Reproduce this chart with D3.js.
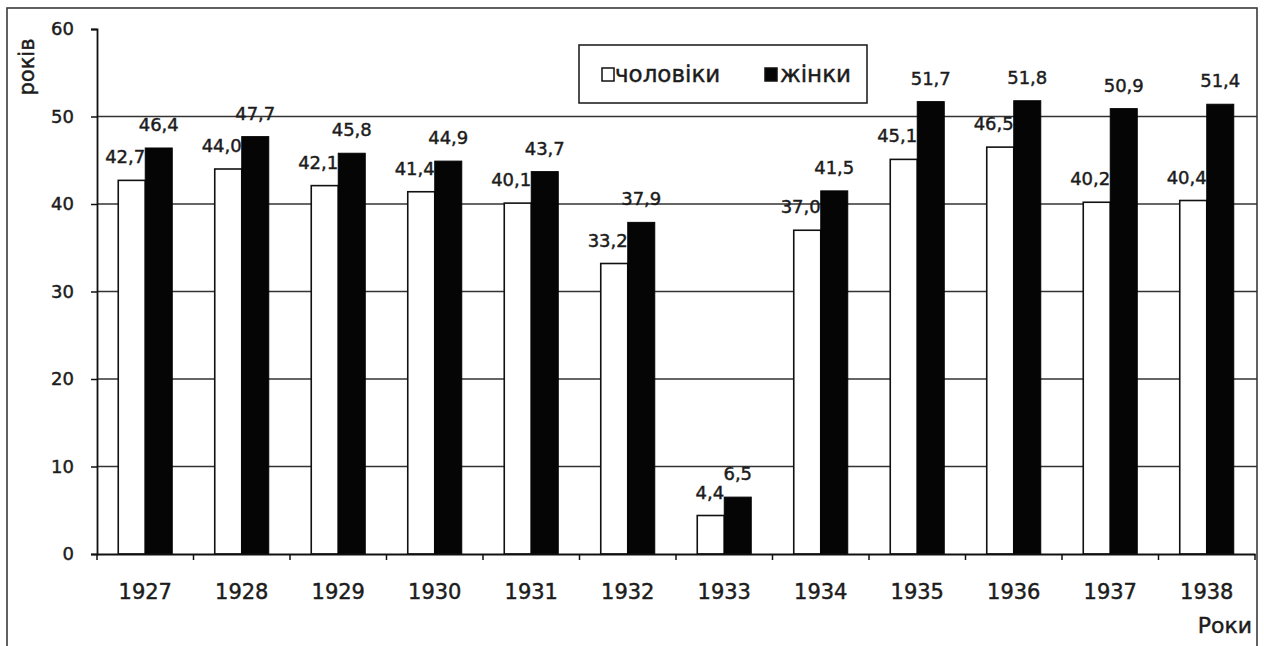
<!DOCTYPE html>
<html>
<head>
<meta charset="utf-8">
<script src="https://cdn.jsdelivr.net/npm/d3@7"></script>
<style>
  html, body { margin: 0; padding: 0; background: #fff; }
  svg { display: block; }
  text { font-family: "DejaVu Sans", sans-serif; fill: #1c1c1c; stroke: #1c1c1c; stroke-width: 0.45px; }
</style>
</head>
<body>
<svg id="chart" width="1264" height="646"></svg>
<script>
// ---- data ----
const years = ["1927","1928","1929","1930","1931","1932","1933","1934","1935","1936","1937","1938"];
const men   = [42.7, 44.0, 42.1, 41.4, 40.1, 33.2, 4.4, 37.0, 45.1, 46.5, 40.2, 40.4];
const women = [46.4, 47.7, 45.8, 44.9, 43.7, 37.9, 6.5, 41.5, 51.7, 51.8, 50.9, 51.4];
const seriesNames = ["чоловіки", "жінки"];
const yTicks = [0, 10, 20, 30, 40, 50, 60];
const yTitle = "років";
const xTitle = "Роки";

// ---- layout ----
const svg = d3.select("#chart");
const plot = { left: 97, right: 1255, top: 29, bottom: 554 };
const barW = 27;
const fmt = v => d3.format(".1f")(v).replace(".", ",");

const x = d3.scaleBand().domain(years).range([plot.left, plot.right]).paddingInner(0).paddingOuter(0);
const y = d3.scaleLinear().domain([0, 60]).range([plot.bottom, plot.top]);

// outer frame
svg.append("rect")
  .attr("x", 7).attr("y", 8).attr("width", 1250).attr("height", 700)
  .attr("fill", "none").attr("stroke", "#3a3a3a").attr("stroke-width", 1.6);

// gridlines
svg.append("g").selectAll("line")
  .data(yTicks.filter(t => t > 0 && t < 60))
  .join("line")
  .attr("x1", plot.left).attr("x2", 1257)
  .attr("y1", d => y(d)).attr("y2", d => y(d))
  .attr("stroke", "#333").attr("stroke-width", 1.5);

// bars
const groups = svg.append("g").selectAll("g")
  .data(years.map((yr, i) => ({ yr, m: men[i], w: women[i] })))
  .join("g")
  .attr("transform", d => `translate(${x(d.yr) + x.bandwidth() / 2},0)`);

groups.append("rect")
  .attr("x", -barW).attr("width", barW)
  .attr("y", d => y(d.m)).attr("height", d => y(0) - y(d.m))
  .attr("fill", "#fff").attr("stroke", "#111").attr("stroke-width", 1.6);

groups.append("rect")
  .attr("x", 0).attr("width", barW)
  .attr("y", d => y(d.w)).attr("height", d => y(0) - y(d.w))
  .attr("fill", "#050505").attr("stroke", "#050505").attr("stroke-width", 1);

// value labels
groups.append("text")
  .attr("x", 0).attr("y", d => y(d.m) - 17)
  .attr("text-anchor", "end").attr("font-size", 18)
  .text(d => fmt(d.m));

groups.append("text")
  .attr("x", barW / 2).attr("y", d => y(d.w) - 17)
  .attr("text-anchor", "middle").attr("font-size", 18)
  .text(d => fmt(d.w));

// y axis
const yAxis = d3.axisLeft(y).tickValues(yTicks).tickSize(6).tickPadding(17).tickFormat(d3.format("d"));
const gy = svg.append("g").attr("transform", `translate(${plot.left},0)`).call(yAxis);
gy.select(".domain").attr("stroke", "#111").attr("stroke-width", 1.8);
gy.selectAll(".tick line").attr("stroke", "#111").attr("stroke-width", 1.5);
gy.selectAll(".tick text").attr("font-size", 18).attr("font-family", "DejaVu Sans").attr("fill", "#1c1c1c");

// x axis baseline
const xAxis = d3.axisBottom(x).tickSize(0).tickPadding(30);
const gx = svg.append("g").attr("transform", `translate(0,${plot.bottom})`).call(xAxis);
gx.select(".domain").attr("stroke", "#111").attr("stroke-width", 1.8);
gx.selectAll(".tick text").attr("font-size", 21).attr("font-family", "DejaVu Sans").attr("fill", "#1c1c1c");

// category boundary ticks
svg.append("g").selectAll("line")
  .data(years.slice(1).concat(["end"]))
  .join("line")
  .attr("x1", (d, i) => x(years[0]) + x.step() * (i + 1))
  .attr("x2", (d, i) => x(years[0]) + x.step() * (i + 1))
  .attr("y1", plot.bottom).attr("y2", plot.bottom + 6)
  .attr("stroke", "#111").attr("stroke-width", 1.5);
svg.append("line")
  .attr("x1", plot.left).attr("x2", plot.left)
  .attr("y1", plot.bottom).attr("y2", plot.bottom + 6)
  .attr("stroke", "#111").attr("stroke-width", 1.5);

// axis titles
svg.append("text")
  .attr("transform", "translate(34,67) rotate(-90)")
  .attr("text-anchor", "middle").attr("font-size", 21)
  .text(yTitle);

svg.append("text")
  .attr("x", 1252).attr("y", 633)
  .attr("text-anchor", "end").attr("font-size", 22)
  .text(xTitle);

// legend
const lg = svg.append("g");
lg.append("rect")
  .attr("x", 579).attr("y", 45).attr("width", 288).attr("height", 58)
  .attr("fill", "#fff").attr("stroke", "#222").attr("stroke-width", 1.6);
const legendItems = [
  { name: seriesNames[0], fill: "#fff", sx: 602, tx: 615 },
  { name: seriesNames[1], fill: "#050505", sx: 765, tx: 780 }
];
legendItems.forEach(it => {
  lg.append("rect")
    .attr("x", it.sx).attr("y", 68).attr("width", 12).attr("height", 13)
    .attr("fill", it.fill).attr("stroke", "#111").attr("stroke-width", 1.5);
  lg.append("text")
    .attr("x", it.tx).attr("y", 82).attr("font-size", 23)
    .text(it.name);
});
</script>
</body>
</html>
